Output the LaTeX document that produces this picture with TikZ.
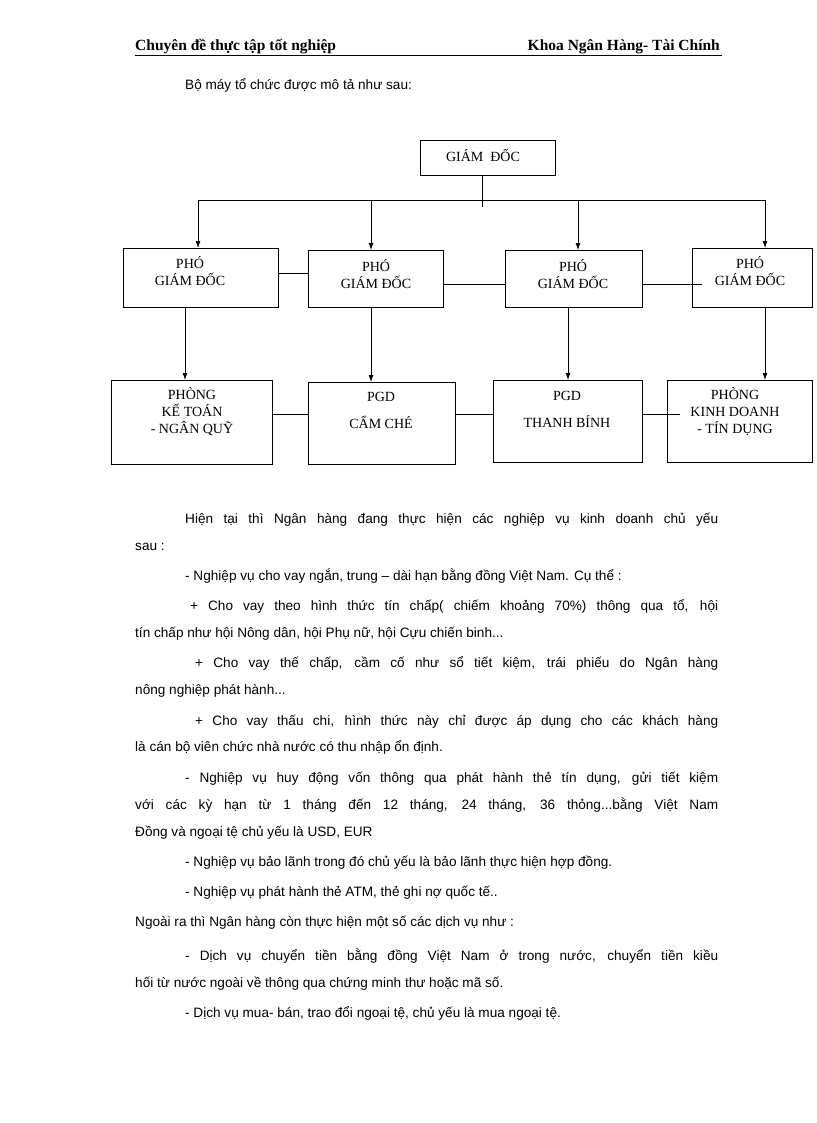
\documentclass[tikz,border=0pt]{standalone}
\usepackage{fontspec}
\usetikzlibrary{arrows.meta}
\setmainfont{Liberation Sans}
\newfontfamily\hdfont{Liberation Serif}
\begin{document}
\begin{tikzpicture}[x=1pt,y=-1pt,
  lab/.style={align=center,font=\hdfont\fontsize{14}{17}\selectfont,inner sep=0pt},
  ln/.style={anchor=base west,inner sep=0pt,font=\fontsize{13.6}{16}\selectfont},
  arr/.style={thick,-{Latex[length=7pt,width=5pt]}},con/.style={thick}]
\useasboundingbox (0,0) rectangle (816,1123);
\newcommand{\jline}[3]{\node[ln] at (#1,#2) {\hbox to \dimexpr718pt-#1pt\relax{#3}};}
\newcommand{\pline}[3]{\node[ln] at (#1,#2) {#3};}
% header
\node[anchor=base west,inner sep=0pt,font=\hdfont\bfseries\fontsize{15.5}{18}\selectfont] (h1) at (135,51) {Chuyên đề thực tập tốt nghiệp};
\node[anchor=base east,inner sep=0pt,font=\hdfont\bfseries\fontsize{15.5}{18}\selectfont] (h2) at (720,51) {Khoa Ngân Hàng- Tài Chính};
\draw (135,55) -- (722,55);
\pline{185}{90}{Bộ máy tổ chức được mô tả như sau:}
% boxes
\draw[thick] (420,140) rectangle (555,175); \node[lab] (gd) at (483,155) {GIÁM\ \ ĐỐC};
\coordinate (gdb) at (482,175);
\foreach \a/\b/\t/\u in {123/278/248/307, 308/443/250/307, 505/642/250/307, 692/812/248/307,
  111/272/380/464, 308/455/382/464, 493/642/380/462, 667/812/380/462}{
  \draw[thick] (\a,\t) rectangle (\b,\u);
}
\node[lab] (pp1) at (190,271) {PHÓ\\GIÁM\ ĐỐC};
\node[lab] (pp2) at (376,274) {PHÓ\\GIÁM\ ĐỐC};
\node[lab] (pp3) at (573,274) {PHÓ\\GIÁM\ ĐỐC};
\node[lab] (pp4) at (750,271) {PHÓ\\GIÁM\ ĐỐC};
\node[lab] (bb1) at (192,412) {PHÒNG\\KẾ TOÁN\\- NGÂN\ QUỸ};
\node[lab] (bb2) at (381,410) {PGD\\[10pt]CẨM\ CHÉ};
\node[lab] (bb3) at (567,409) {PGD\\[10pt]THANH\ BÍNH};
\node[lab] (bb4) at (735,412) {PHÒNG\\KINH DOANH\\- TÍN DỤNG};
% connectors
\draw[con] (gdb) -- (482,207);
\draw[con] (198,200) -- (765,200);
\foreach \x/\t in {198/248,371/250,578/250,765/248} \draw[arr] (\x,200) -- (\x,\t);
\foreach \x/\t in {185/380,371/382,568/380,765/380} \draw[arr] (\x,307) -- (\x,\t);
\draw[con] (278,273) -- (308,273);
\draw[con] (443,284) -- (505,284);
\draw[con] (642,284) -- (702,284);
\draw[con] (272,414) -- (308,414);
\draw[con] (455,414) -- (493,414);
\draw[con] (642,414) -- (680,414);
% body
\jline{185}{523}{Hiện tại thì Ngân hàng đang thực hiện các nghiệp vụ kinh doanh chủ yếu}
\pline{135}{550}{sau :}
\pline{185}{580}{- Nghiệp vụ cho vay ngắn, trung – dài hạn bằng đồng Việt Nam. Cụ thể :}
\jline{190}{610}{+ Cho vay theo hình thức tín chấp( chiếm khoảng 70\%) thông qua tổ, hội}
\pline{135}{637}{tín chấp như hội Nông dân, hội Phụ nữ, hội Cựu chiến binh...}
\jline{195}{667}{+ Cho vay thế chấp, cầm cố như sổ tiết kiệm, trái phiếu do Ngân hàng}
\pline{135}{694}{nông nghiệp phát hành...}
\jline{195}{725}{+ Cho vay thấu chi, hình thức này chỉ được áp dụng cho các khách hàng}
\pline{135}{751}{là cán bộ viên chức nhà nước có thu nhập ổn định.}
\jline{185}{782}{- Nghiệp vụ huy động vốn thông qua phát hành thẻ tín dụng, gửi tiết kiệm}
\jline{135}{809}{với các kỳ hạn từ 1 tháng đến 12 tháng, 24 tháng, 36 thỏng...bằng Việt Nam}
\pline{135}{836}{Đồng và ngoại tệ chủ yếu là USD, EUR}
\pline{185}{866}{- Nghiệp vụ bảo lãnh trong đó chủ yếu là bảo lãnh thực hiện hợp đồng.}
\pline{185}{896}{- Nghiệp vụ phát hành thẻ ATM, thẻ ghi nợ quốc tế..}
\pline{135}{926}{Ngoài ra thì Ngân hàng còn thực hiện một số các dịch vụ như :}
\jline{185}{960}{- Dịch vụ chuyển tiền bằng đồng Việt Nam ở trong nước, chuyển tiền kiều}
\pline{135}{987}{hối từ nước ngoài về thông qua chứng minh thư hoặc mã số.}
\pline{185}{1017}{- Dịch vụ mua- bán, trao đổi ngoại tệ, chủ yếu là mua ngoại tệ.}
\end{tikzpicture}
\end{document}
